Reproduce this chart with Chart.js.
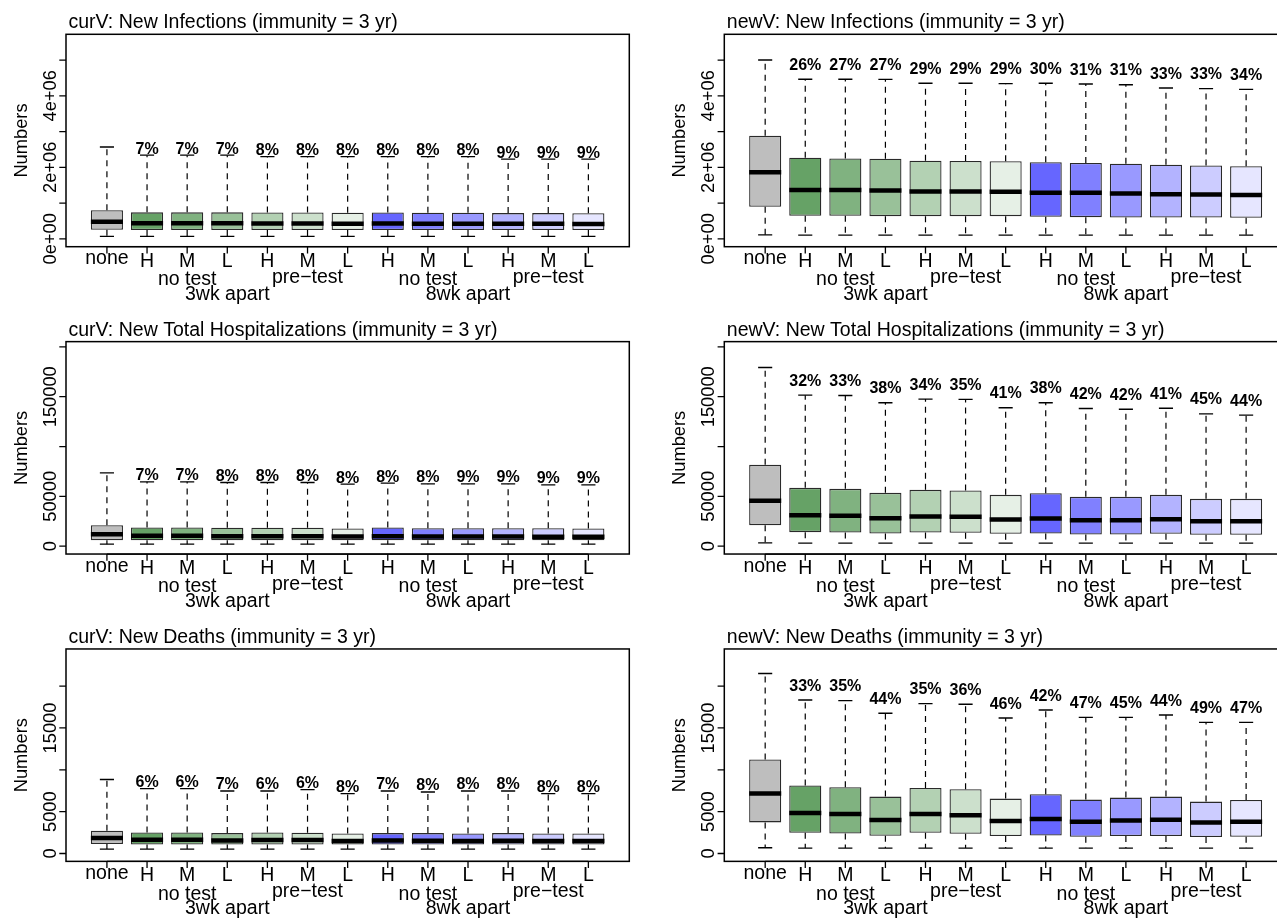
<!DOCTYPE html>
<html><head><meta charset="utf-8">
<script src="https://cdn.jsdelivr.net/npm/chart.js@4.4.1/dist/chart.umd.min.js"></script>
<style>
html,body{margin:0;padding:0;background:#fff;width:1277px;height:922px;overflow:hidden;position:relative}
canvas{position:absolute;display:block}
</style></head><body>
<script>
// ---------------- data ----------------
const categories = ["none","H","M","L","H","M","L","H","M","L","H","M","L"];
const testLabels = ["no test","pre\u2212test","no test","pre\u2212test"];
const testLabelPos = [3, 6, 9, 12];
const spacingLabels = ["3wk apart","8wk apart"];
const spacingLabelPos = [4, 10];

// curV: New Infections
const infCurLow  = [70000, 70000, 70000, 70000, 70000, 70000, 70000, 70000, 70000, 70000, 70000, 70000, 70000];
const infCurQ1   = [255000, 245000, 245000, 245000, 245000, 245000, 245000, 245000, 245000, 245000, 245000, 245000, 245000];
const infCurMed  = [476000, 435000, 435000, 435000, 430000, 430000, 425000, 430000, 425000, 425000, 420000, 420000, 415000];
const infCurQ3   = [800000, 740000, 740000, 740000, 735000, 735000, 730000, 735000, 730000, 730000, 720000, 720000, 715000];
const infCurHigh = [2570000, 2340000, 2340000, 2340000, 2300000, 2300000, 2300000, 2300000, 2300000, 2300000, 2230000, 2230000, 2230000];
const infCurPct  = [null, 7, 7, 7, 8, 8, 8, 8, 8, 8, 9, 9, 9];

// newV: New Infections
const infNewLow  = [112000, 104000, 104000, 104000, 104000, 104000, 104000, 104000, 104000, 104000, 104000, 104000, 104000];
const infNewQ1   = [896000, 644000, 644000, 635000, 635000, 635000, 635000, 616000, 607000, 598000, 598000, 598000, 589000];
const infNewMed  = [1860000, 1364000, 1364000, 1355000, 1327000, 1327000, 1317000, 1290000, 1290000, 1270000, 1250000, 1243000, 1224000];
const infNewQ3   = [2885000, 2270000, 2250000, 2240000, 2185000, 2180000, 2170000, 2140000, 2120000, 2100000, 2070000, 2050000, 2030000];
const infNewHigh = [5000000, 4465000, 4465000, 4460000, 4350000, 4350000, 4340000, 4350000, 4330000, 4310000, 4220000, 4200000, 4180000];
const infNewPct  = [null, 26, 27, 27, 29, 29, 29, 30, 31, 31, 33, 33, 34];

// curV: New Total Hospitalizations
const hospCurLow  = [2000, 2000, 2000, 2000, 2000, 2000, 2000, 2000, 2000, 2000, 2000, 2000, 2000];
const hospCurQ1   = [6020, 6000, 6000, 6000, 6000, 6000, 6000, 6000, 6000, 6000, 6000, 6000, 6000];
const hospCurMed  = [12050, 10340, 10340, 10000, 10000, 10000, 9700, 10000, 9700, 9700, 9700, 9500, 9400];
const hospCurQ3   = [21080, 18770, 18770, 18430, 18430, 18430, 17770, 18770, 18100, 18100, 18100, 18100, 17770];
const hospCurHigh = [73600, 64550, 64550, 63880, 63880, 63880, 62250, 63250, 62550, 62550, 62550, 61550, 61550];
const hospCurPct  = [null, 7, 7, 8, 8, 8, 8, 8, 8, 9, 9, 9, 9];

// newV: New Total Hospitalizations
const hospNewLow  = [3350, 3010, 3010, 3010, 3010, 3010, 3010, 3010, 3010, 3010, 3010, 3010, 3010];
const hospNewQ1   = [21080, 14060, 13720, 12710, 13720, 13390, 12370, 12710, 11700, 11700, 12370, 11370, 11370];
const hospNewMed  = [45500, 31120, 30420, 28110, 29750, 29420, 26770, 27780, 26100, 26100, 27100, 25100, 25100];
const hospNewQ3   = [81600, 58550, 57550, 53530, 56540, 55870, 51530, 53200, 49520, 49520, 51530, 47510, 47510];
const hospNewHigh = [179400, 151600, 151300, 143900, 147600, 147300, 138900, 143900, 138200, 137500, 138500, 132800, 131500];
const hospNewPct  = [null, 32, 33, 38, 34, 35, 41, 38, 42, 42, 41, 45, 44];

// curV: New Deaths
const deathCurLow  = [527, 527, 527, 527, 527, 527, 527, 527, 527, 527, 527, 527, 527];
const deathCurQ1   = [1127, 1079, 1079, 1079, 1079, 1079, 1079, 1079, 1079, 1079, 1079, 1079, 1079];
const deathCurMed  = [1846, 1643, 1643, 1563, 1603, 1603, 1483, 1563, 1523, 1483, 1523, 1483, 1483];
const deathCurQ3   = [2722, 2518, 2518, 2438, 2518, 2478, 2398, 2438, 2438, 2398, 2438, 2398, 2398];
const deathCurHigh = [8836, 7757, 7757, 7477, 7477, 7637, 7158, 7477, 7357, 7477, 7477, 7158, 7158];
const deathCurPct  = [null, 6, 6, 7, 6, 6, 8, 7, 8, 8, 8, 8, 8];

// newV: New Deaths
const deathNewLow  = [683, 647, 647, 647, 647, 647, 647, 647, 647, 647, 647, 647, 647];
const deathNewQ1   = [3717, 2482, 2398, 2122, 2482, 2362, 2086, 2158, 2002, 2086, 2086, 1966, 2002];
const deathNewMed  = [7158, 4844, 4724, 4005, 4724, 4556, 3885, 4125, 3800, 3957, 4040, 3717, 3800];
const deathNewQ3   = [11230, 8117, 7917, 6798, 7837, 7677, 6558, 7074, 6440, 6680, 6798, 6200, 6400];
const deathNewHigh = [21510, 18345, 18270, 16750, 17913, 17830, 16190, 17150, 16270, 16270, 16550, 15670, 15670];
const deathNewPct  = [null, 33, 35, 44, 35, 36, 46, 42, 47, 45, 44, 49, 47];

// axis limits and ticks
const infYLim = [0, 5500000];
const infTicks = [0, 1000000, 2000000, 3000000, 4000000, 5000000];
const infTickLabels = ["0e+00", "", "2e+06", "", "4e+06", ""];
const hospYLim = [0, 197400];
const hospTicks = [0, 50000, 100000, 150000, 200000];
const hospTickLabels = ["0", "50000", "", "150000", ""];
const deathYLim = [0, 23500];
const deathTicks = [0, 5000, 10000, 15000, 20000];
const deathTickLabels = ["0", "5000", "", "15000", ""];

const boxColors = ["#BEBEBE",
  "#66A266", "#80B280", "#99C199", "#B3D1B3", "#CCE0CC", "#E6F0E6",
  "#6666FF", "#8080FF", "#9999FF", "#B3B3FF", "#CCCCFF", "#E6E6FF"];

// ---------------- layout / style ----------------
const ROW_H = 922 / 3;
const COL_X = [0, 640];
const CANVAS_W = [640, 660];
const CANVAS_H = 308;
const PAD_L = [66, 84.3];
const PAD_R = [10.7, 13];
const PLOT_T = 34.3, PLOT_B = 246.7;
const FONT = '"Liberation Sans", Arial, Helvetica, sans-serif';

const panels = [
  {title: "curV: New Infections (immunity = 3 yr)", row: 0, col: 0, low: infCurLow, q1: infCurQ1, med: infCurMed, q3: infCurQ3, high: infCurHigh, pct: infCurPct, ylim: infYLim, ticks: infTicks, tickLabels: infTickLabels, pctOff: 1.5},
  {title: "newV: New Infections (immunity = 3 yr)", row: 0, col: 1, low: infNewLow, q1: infNewQ1, med: infNewMed, q3: infNewQ3, high: infNewHigh, pct: infNewPct, ylim: infYLim, ticks: infTicks, tickLabels: infTickLabels, pctOff: 9.4},
  {title: "curV: New Total Hospitalizations (immunity = 3 yr)", row: 1, col: 0, low: hospCurLow, q1: hospCurQ1, med: hospCurMed, q3: hospCurQ3, high: hospCurHigh, pct: hospCurPct, ylim: hospYLim, ticks: hospTicks, tickLabels: hospTickLabels, pctOff: 1.5},
  {title: "newV: New Total Hospitalizations (immunity = 3 yr)", row: 1, col: 1, low: hospNewLow, q1: hospNewQ1, med: hospNewMed, q3: hospNewQ3, high: hospNewHigh, pct: hospNewPct, ylim: hospYLim, ticks: hospTicks, tickLabels: hospTickLabels, pctOff: 9.4},
  {title: "curV: New Deaths (immunity = 3 yr)", row: 2, col: 0, low: deathCurLow, q1: deathCurQ1, med: deathCurMed, q3: deathCurQ3, high: deathCurHigh, pct: deathCurPct, ylim: deathYLim, ticks: deathTicks, tickLabels: deathTickLabels, pctOff: 1.5},
  {title: "newV: New Deaths (immunity = 3 yr)", row: 2, col: 1, low: deathNewLow, q1: deathNewQ1, med: deathNewMed, q3: deathNewQ3, high: deathNewHigh, pct: deathNewPct, ylim: deathYLim, ticks: deathTicks, tickLabels: deathTickLabels, pctOff: 9.4}
];

function drawText(ctx, s, x, y, font, align, baseline, rot) {
  ctx.save();
  ctx.translate(x, y);
  if (rot) ctx.rotate(rot);
  ctx.font = font;
  ctx.textAlign = align;
  ctx.textBaseline = baseline;
  ctx.fillStyle = '#000';
  ctx.fillText(s, 0, 0);
  ctx.restore();
}

const boxPlotPlugin = {
  id: 'boxplotExtras',
  afterDatasetsDraw(chart) {
    const p = chart.$panel;
    const ctx = chart.ctx, xs = chart.scales.x, ys = chart.scales.y, a = chart.chartArea;
    const meta = chart.getDatasetMeta(0);
    ctx.save();
    ctx.strokeStyle = '#000';
    categories.forEach((c, i) => {
      const x = xs.getPixelForValue(i + 1);
      const w = meta.data[i].width;
      const capHalf = w * 0.22;
      const yLo = ys.getPixelForValue(p.low[i]);
      const yQ1 = ys.getPixelForValue(p.q1[i]);
      const yMed = ys.getPixelForValue(p.med[i]);
      const yQ3 = ys.getPixelForValue(p.q3[i]);
      const yHi = ys.getPixelForValue(p.high[i]);
      // whiskers
      ctx.setLineDash([6, 5]);
      ctx.lineWidth = 1.2;
      ctx.beginPath();
      ctx.moveTo(x, yQ3); ctx.lineTo(x, yHi);
      ctx.moveTo(x, yQ1); ctx.lineTo(x, yLo);
      ctx.stroke();
      ctx.setLineDash([]);
      // staples
      ctx.lineWidth = 1.4;
      ctx.beginPath();
      ctx.moveTo(x - capHalf, yHi); ctx.lineTo(x + capHalf, yHi);
      ctx.moveTo(x - capHalf, yLo); ctx.lineTo(x + capHalf, yLo);
      ctx.stroke();
      // median
      ctx.lineWidth = 4.5;
      ctx.beginPath();
      ctx.moveTo(x - w / 2, yMed); ctx.lineTo(x + w / 2, yMed);
      ctx.stroke();
      // percent label
      if (p.pct[i] !== null) {
        drawText(ctx, p.pct[i] + '%', x, yHi - p.pctOff, 'bold 16px ' + FONT, 'center', 'alphabetic', 0);
      }
    });
    ctx.restore();
  },
  afterDraw(chart) {
    const p = chart.$panel;
    const ctx = chart.ctx, xs = chart.scales.x, ys = chart.scales.y, a = chart.chartArea;
    ctx.save();
    ctx.strokeStyle = '#000';
    // frame
    ctx.lineWidth = 1.5;
    ctx.strokeRect(a.left, a.top, a.right - a.left, a.bottom - a.top);
    // y ticks
    ctx.lineWidth = 1.3;
    ctx.beginPath();
    p.ticks.forEach(v => {
      const y = ys.getPixelForValue(v);
      ctx.moveTo(a.left - 6.7, y); ctx.lineTo(a.left, y);
    });
    // x ticks and axis line
    const x1 = xs.getPixelForValue(1), x13 = xs.getPixelForValue(categories.length);
    ctx.moveTo(x1, a.bottom); ctx.lineTo(x13, a.bottom);
    categories.forEach((c, i) => {
      const x = xs.getPixelForValue(i + 1);
      ctx.moveTo(x, a.bottom); ctx.lineTo(x, a.bottom + 6.7);
    });
    ctx.stroke();
    // y tick labels
    p.ticks.forEach((v, k) => {
      if (p.tickLabels[k]) {
        drawText(ctx, p.tickLabels[k], a.left - 10.3, ys.getPixelForValue(v), '18.3px ' + FONT, 'center', 'alphabetic', -Math.PI / 2);
      }
    });
    // y axis title
    drawText(ctx, 'Numbers', a.left - 39.3, (a.top + a.bottom) / 2, '18.3px ' + FONT, 'center', 'alphabetic', -Math.PI / 2);
    // x labels
    categories.forEach((c, i) => {
      const x = xs.getPixelForValue(i + 1);
      drawText(ctx, c, x, a.bottom + (i === 0 ? 17.6 : 20), '19.5px ' + FONT, 'center', 'alphabetic', 0);
    });
    testLabels.forEach((t, k) => {
      const x = xs.getPixelForValue(testLabelPos[k]);
      drawText(ctx, t, x, a.bottom + (k % 2 === 0 ? 38.3 : 36), '19.5px ' + FONT, 'center', 'alphabetic', 0);
    });
    spacingLabels.forEach((t, k) => {
      const x = xs.getPixelForValue(spacingLabelPos[k]);
      drawText(ctx, t, x, a.bottom + 52.8, '19.5px ' + FONT, 'center', 'alphabetic', 0);
    });
    // title
    drawText(ctx, p.title, a.left + 2.5, a.top - 6, '19.5px ' + FONT, 'left', 'alphabetic', 0);
    ctx.restore();
  }
};

panels.forEach((p) => {
  const cv = document.createElement('canvas');
  const T = Math.round(p.row * ROW_H);
  const frac = p.row * ROW_H - T;
  cv.width = CANVAS_W[p.col];
  cv.height = CANVAS_H;
  cv.style.left = COL_X[p.col] + 'px';
  cv.style.top = T + 'px';
  cv.style.width = CANVAS_W[p.col] + 'px';
  cv.style.height = CANVAS_H + 'px';
  document.body.appendChild(cv);
  const range = p.ylim[1] - p.ylim[0];
  const chart = new Chart(cv, {
    type: 'bar',
    data: {
      datasets: [{
        data: categories.map((c, i) => ({x: i + 1, y: [p.q1[i], p.q3[i]]})),
        backgroundColor: boxColors,
        borderColor: '#2a2a2a',
        borderWidth: 1.3,
        borderSkipped: false,
        barPercentage: 0.8,
        categoryPercentage: 1.0
      }]
    },
    options: {
      responsive: false,
      animation: false,
      events: [],
      layout: {padding: {left: PAD_L[p.col], right: PAD_R[p.col], top: PLOT_T + frac, bottom: CANVAS_H - (PLOT_B + frac)}},
      plugins: {legend: {display: false}, tooltip: {enabled: false}, title: {display: false}},
      scales: {
        x: {type: 'linear', display: false, offset: false, min: 0.5 - 0.04 * categories.length, max: categories.length + 0.5 + 0.04 * categories.length,
            afterBuildTicks: (s) => { s.ticks = categories.map((c, i) => ({value: i + 1})); }},
        y: {type: 'linear', display: false, min: p.ylim[0] - 0.04 * range, max: p.ylim[1] + 0.04 * range}
      }
    },
    plugins: [{id: 'panelRef', beforeInit(ch) { ch.$panel = p; }}, boxPlotPlugin]
  });
});
</script>
</body></html>
